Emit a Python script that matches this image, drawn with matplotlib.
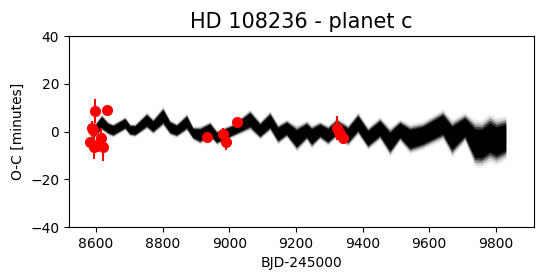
import matplotlib
matplotlib.use("Agg")
import matplotlib.pyplot as plt
import numpy as np

# Model posterior band: epoch time, centre O-C, half-width
model_t = [8585, 8597, 8617, 8636, 8651, 8687, 8702, 8717, 8752, 8771, 8801, 8822,
           8842, 8872, 8891, 8912, 8942, 8962, 9011, 9062, 9092, 9122, 9146, 9172,
           9202, 9232, 9247, 9272, 9296, 9322, 9356, 9386, 9416, 9452, 9482, 9512,
           9542, 9581, 9641, 9668, 9707, 9737, 9757, 9782, 9802, 9830]
model_c = [0.0, 0.6, 3.9, 1.5, 0.6, 3.5, 0.8, 0.6, 4.7, 2.3, 6.5, 1.8,
           0.6, 4.0, -0.6, -1.4, 1.0, -2.4, 0.6, 5.0, 0.6, 4.5, -1.0, 1.4,
           -2.8, 0.5, -2.0, 0.6, -1.5, 1.7, -1.5, 3.5, -2.7, 1.4, -4.2, 0.6,
           -3.0, -1.5, 3.0, -2.7, 1.9, -4.8, -5.0, -2.5, -4.0, -2.4]
model_hw = [2.0, 2.2, 2.6, 2.1, 2.1, 2.1, 1.9, 2.0, 2.6, 2.4, 3.0, 2.4,
            2.2, 2.7, 2.1, 2.8, 2.5, 2.3, 2.1, 3.2, 2.8, 3.1, 3.1, 2.8,
            4.0, 3.1, 3.6, 2.8, 3.1, 3.1, 3.3, 3.5, 3.5, 3.5, 4.4, 3.4,
            4.5, 4.2, 4.6, 5.6, 4.4, 7.0, 7.0, 7.2, 7.0, 6.5]

# Observed transit timings
obs_t = [8582, 8587, 8590, 8594, 8597, 8607, 8616, 8620, 8632,
         8932, 8980, 8990, 9022,
         9322, 9328, 9333, 9342]
obs_oc = [-4.5, 1.5, 0.5, -6.5, 8.5, -5.5, -2.5, -6.5, 9.0,
          -2.2, -1.0, -4.5, 4.0,
          1.5, 0.0, -1.0, -2.5]
obs_err = [2.0, 3.0, 2.0, 5.0, 5.0, 3.0, 4.0, 6.0, 1.5,
           1.0, 2.5, 3.0, 1.0,
           5.0, 2.0, 2.0, 1.5]

title = "HD 108236 - planet c"
xlabel = "BJD-245000"
ylabel = "O-C [minutes]"

fig = plt.figure(figsize=(5.43, 2.8), dpi=100)
ax = fig.add_axes([0.127, 0.189, 0.856, 0.682])

t = np.array(model_t, float)
c = np.array(model_c, float)
hw = np.array(model_hw, float)
for frac, alpha in [(1.45, 0.05), (1.3, 0.12), (1.15, 0.3), (1.0, 0.6), (0.85, 1.0)]:
    ax.fill_between(t, c - frac * hw, c + frac * hw, color="black",
                    alpha=alpha, linewidth=0, zorder=1)

ax.errorbar(obs_t, obs_oc, yerr=obs_err, fmt="o", color="red", ecolor="red",
            markersize=7, elinewidth=1.5, capsize=0, zorder=3)

ax.set_xlim(8519, 9914)
ax.set_ylim(-40, 40)
ax.set_yticks([-40, -20, 0, 20, 40])
ax.set_xticks([8600, 8800, 9000, 9200, 9400, 9600, 9800])
ax.set_title(title, fontsize=15)
ax.set_xlabel(xlabel)
ax.set_ylabel(ylabel)

fig.savefig("out.png", dpi=100)
